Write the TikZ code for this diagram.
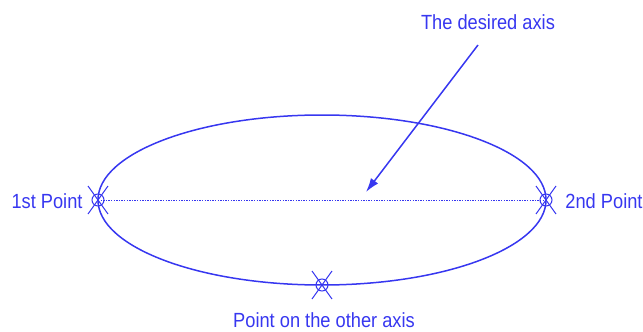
\documentclass[tikz,border=0pt]{standalone}
\usepackage{fontspec}
\setmainfont{Liberation Sans}[FakeStretch=0.89]
\usetikzlibrary{arrows.meta}
\definecolor{cadblue}{RGB}{55,55,240}
\tikzset{
  lbl/.style={text=cadblue, font=\fontsize{20.5}{23}\selectfont, inner sep=0pt},
  curve/.style={draw=cadblue, line width=1.5pt},
  axisline/.style={draw=cadblue, line width=0.9pt, dash pattern=on 1.3pt off 1.3pt},
  ptr/.style={draw=cadblue, line width=1.5pt, -{Latex[length=14pt,width=9pt]}},
  xmark/.style={draw=cadblue, line width=1pt}
}
\newcommand{\pickmark}[1]{%
  \draw[xmark] (#1) circle[radius=6pt];
  \draw[xmark] ([shift={(-10,-14)}]#1) -- ([shift={(10,14)}]#1);
  \draw[xmark] ([shift={(-10,14)}]#1) -- ([shift={(10,-14)}]#1);
}
\begin{document}
\begin{tikzpicture}[x=1pt,y=-1pt]
\useasboundingbox (0,0) rectangle (643,332);
\coordinate (c) at (322,200);
\coordinate (p1) at (98,200);
\coordinate (p2) at (546,200);
\coordinate (p3) at (322,285);
\coordinate (tip) at (366,192);
\coordinate (tail) at (478,45);
\draw[curve] (c) ellipse[x radius=224pt, y radius=85pt];
\draw[axisline] (p1) -- (p2);
\pickmark{p1}
\pickmark{p2}
\pickmark{p3}
\draw[ptr] (tail) -- (tip);
\node[lbl] (t1) at (488,22) {The desired axis};
\node[lbl] (t2) at (47,201) {1st Point};
\node[lbl] (t3) at (604,201) {2nd Point};
\node[lbl] (t4) at (324,320) {Point on the other axis};
\end{tikzpicture}
\end{document}
